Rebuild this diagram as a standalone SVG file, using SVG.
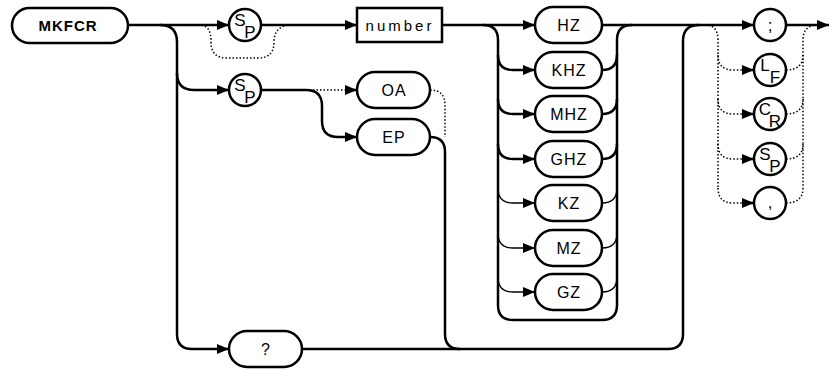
<svg xmlns="http://www.w3.org/2000/svg" width="830" height="370" viewBox="0 0 830 370">
<style>
.box{fill:#fff;stroke:#000;stroke-width:2.5}
.ln{fill:none;stroke:#000;stroke-width:2.5}
.thin{fill:none;stroke:#000;stroke-width:1.3}
.dot{fill:none;stroke:#000;stroke-width:1.5;stroke-dasharray:1.5 2}
.t{font-family:"Liberation Sans",Arial,sans-serif;font-size:16px;text-anchor:middle;fill:#000;letter-spacing:1px}
.b{font-weight:bold;font-size:15px}
.s{font-family:"Liberation Sans",Arial,sans-serif;font-size:17px;text-anchor:middle;fill:#000}
</style>
<defs>
<marker id="ar" markerUnits="userSpaceOnUse" markerWidth="12" markerHeight="10" refX="12" refY="5" orient="auto">
<path d="M0,0 L12,5 L0,10 z" fill="#000"/>
</marker>
</defs>
<g id="connectors">
<path class="ln" d="M128,25 H229" marker-end="url(#ar)"/>
<path class="ln" d="M261,25 H357" marker-end="url(#ar)"/>
<path class="ln" d="M442,25 H535" marker-end="url(#ar)"/>
<path class="ln" d="M602,25 H754" marker-end="url(#ar)"/>
<path class="ln" d="M786,25 H829" marker-end="url(#ar)"/>
<path class="dot" d="M198,25 C209,25 211,32 211,42 Q211,58 227,58 H258 Q274,58 274,42 C274,31 280,25 292,25"/>
<path class="ln" d="M160,25 Q177,25 177,42 V334 Q177,349 192,349 H229" marker-end="url(#ar)"/>
<path class="ln" d="M177,73 Q177,90 194,90 H229" marker-end="url(#ar)"/>
<path class="ln" d="M261,90 H306 Q322,90 322,106 V121 Q322,137 338,137 H357" marker-end="url(#ar)"/>
<path class="dot" d="M306,90 H346"/>
<path class="ln" d="M346,90 H357" marker-end="url(#ar)"/>
<path class="dot" d="M430,90 Q445,90 445,105 V137"/>
<path class="ln" d="M430,137 Q445,137 445,152 V334 Q445,349 460,349"/>
<path class="ln" d="M302,349 H668 Q683,349 683,334 V41 Q683,25 699,25"/>
<path class="ln" d="M483,25 Q498,25 498,40 V305 Q498,320 513,320 H602 Q617,320 617,305 V40 Q617,25 632,25"/>
<path class="ln" d="M498,55 Q498,70 513,70 H535" marker-end="url(#ar)"/>
<path class="ln" d="M498,99 Q498,114 513,114 H535" marker-end="url(#ar)"/>
<path class="ln" d="M498,144 Q498,159 513,159 H535" marker-end="url(#ar)"/>
<path class="thin" d="M498,188 Q498,203 513,203 H535" marker-end="url(#ar)"/>
<path class="thin" d="M498,233 Q498,248 513,248 H535" marker-end="url(#ar)"/>
<path class="thin" d="M498,277 Q498,292 513,292 H535" marker-end="url(#ar)"/>
<path class="ln" d="M602,70 Q617,70 617,55"/>
<path class="ln" d="M602,114 Q617,114 617,99"/>
<path class="ln" d="M602,159 Q617,159 617,144"/>
<path class="thin" d="M602,203 Q617,203 617,188"/>
<path class="thin" d="M602,248 Q617,248 617,233"/>
<path class="thin" d="M602,292 Q617,292 617,277"/>
<path class="dot" d="M705,25 Q718,25 718,40 V188"/>
<path class="dot" d="M718,55 Q718,70 733,70 H742"/>
<path class="dot" d="M718,99 Q718,114 733,114 H742"/>
<path class="dot" d="M718,144 Q718,159 733,159 H742"/>
<path class="dot" d="M718,188 Q718,203 733,203 H742"/>
<path class="ln" d="M742,70 H754" marker-end="url(#ar)"/>
<path class="ln" d="M742,114 H754" marker-end="url(#ar)"/>
<path class="ln" d="M742,159 H754" marker-end="url(#ar)"/>
<path class="ln" d="M742,203 H754" marker-end="url(#ar)"/>
<path class="dot" d="M786,70 Q803,70 803,55"/>
<path class="dot" d="M786,114 Q803,114 803,99"/>
<path class="dot" d="M786,159 Q803,159 803,144"/>
<path class="dot" d="M786,203 Q803,203 803,188 V40 Q803,25 818,25"/>
</g>
<g id="MKFCR"><rect class="box" x="12" y="8" width="116" height="35" rx="17.5"/><text class="t b" x="68" y="31">MKFCR</text></g>
<g id="sp1"><circle class="box" cx="245" cy="25" r="16"/><text class="s" x="240" y="26">S</text><text class="s" x="250" y="38">P</text></g>
<g id="sp2"><circle class="box" cx="245" cy="90" r="16"/><text class="s" x="240" y="91">S</text><text class="s" x="250" y="103">P</text></g>
<g id="number"><rect class="box" x="357" y="8" width="85" height="34"/><text class="t" x="400" y="31" style="letter-spacing:3px;font-size:15px">number</text></g>
<g id="OA"><rect class="box" x="357" y="72" width="73" height="36" rx="18"/><text class="t" x="394" y="96">OA</text></g>
<g id="EP"><rect class="box" x="357" y="119" width="73" height="36" rx="18"/><text class="t" x="394" y="143">EP</text></g>
<g id="q"><rect class="box" x="229" y="331" width="73" height="36" rx="18"/><text class="t" x="266" y="355">?</text></g>
<g id="HZ"><rect class="box" x="535" y="7" width="67" height="36" rx="18"/><text class="t" x="569" y="31">HZ</text></g>
<g id="KHZ"><rect class="box" x="535" y="52" width="67" height="36" rx="18"/><text class="t" x="569" y="76">KHZ</text></g>
<g id="MHZ"><rect class="box" x="535" y="96" width="67" height="36" rx="18"/><text class="t" x="569" y="120">MHZ</text></g>
<g id="GHZ"><rect class="box" x="535" y="141" width="67" height="36" rx="18"/><text class="t" x="569" y="165">GHZ</text></g>
<g id="KZ"><rect class="box" x="535" y="185" width="67" height="36" rx="18"/><text class="t" x="569" y="209">KZ</text></g>
<g id="MZ"><rect class="box" x="535" y="230" width="67" height="36" rx="18"/><text class="t" x="569" y="254">MZ</text></g>
<g id="GZ"><rect class="box" x="535" y="274" width="67" height="36" rx="18"/><text class="t" x="569" y="298">GZ</text></g>
<g id="semi"><circle class="box" cx="770" cy="25" r="16"/><text class="s" x="770" y="31">;</text></g>
<g id="lf"><circle class="box" cx="770" cy="70" r="16"/><text class="s" x="765" y="71">L</text><text class="s" x="775" y="83">F</text></g>
<g id="cr"><circle class="box" cx="770" cy="114" r="16"/><text class="s" x="765" y="115">C</text><text class="s" x="775" y="127">R</text></g>
<g id="sp3"><circle class="box" cx="770" cy="159" r="16"/><text class="s" x="765" y="160">S</text><text class="s" x="775" y="172">P</text></g>
<g id="comma"><circle class="box" cx="770" cy="203" r="16"/><text class="s" x="770" y="208">,</text></g>
</svg>
